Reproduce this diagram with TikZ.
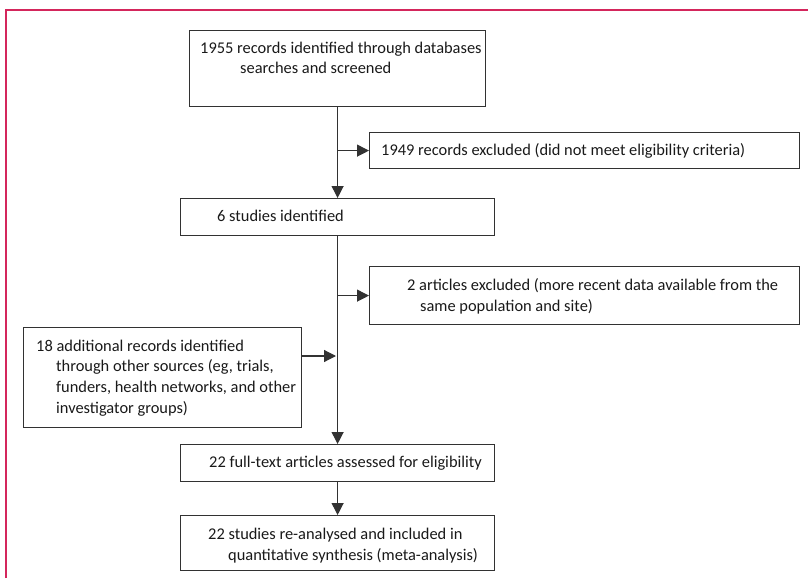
\documentclass[tikz,border=0pt]{standalone}
\usepackage{fontspec}
\setmainfont{Carlito}
\usetikzlibrary{arrows.meta}
\definecolor{lancetpink}{RGB}{212,38,92}
\definecolor{boxline}{RGB}{50,50,50}
\tikzset{
  box/.style={draw=boxline, line width=1.2pt, rectangle, anchor=north west, inner sep=0pt},
  txt/.style={anchor=base west, align=left, inner sep=0pt, font=\fontsize{16.4}{20.6}\selectfont, text=black!90},
  flow/.style={draw=boxline, line width=1.2pt, -{Triangle[length=12pt,width=12pt]}}
}
\begin{document}
\begin{tikzpicture}[x=1pt,y=-1pt]
\useasboundingbox (0,0) rectangle (808,578);
\draw[lancetpink, line width=1.3pt] (6,578) -- (6,10) -- (808,10);
% boxes
\node[box, minimum width=296pt, minimum height=76pt] (b1) at (189,30) {};
\node[box, minimum width=430pt, minimum height=36pt] (ex1) at (369,132) {};
\node[box, minimum width=314pt, minimum height=37pt] (b6) at (180,198) {};
\node[box, minimum width=430pt, minimum height=58pt] (ex2) at (369,266) {};
\node[box, minimum width=278pt, minimum height=100pt] (oth) at (23,327) {};
\node[box, minimum width=314pt, minimum height=37pt] (full) at (180,444) {};
\node[box, minimum width=314pt, minimum height=55pt] (fin) at (180,515) {};
% texts (anchor = baseline of the last line)
\node[txt] (t1) at (200,74) {1955 records identified through databases\\\hspace*{40pt}searches and screened};
\node[txt] (tex1) at (381,155) {1949 records excluded (did not meet eligibility criteria)};
\node[txt] (t6) at (217,221) {6 studies identified};
\node[txt] (tex2) at (407,311) {2 articles excluded (more recent data available from the\\\hspace*{13pt}same population and site)};
\node[txt] (toth) at (36,413) {18 additional records identified\\\hspace*{20pt}through other sources (eg, trials,\\\hspace*{20pt}funders, health networks, and other\\\hspace*{20pt}investigator groups)};
\node[txt] (tfull) at (209,467) {22 full-text articles assessed for eligibility};
\node[txt] (tfin) at (208,560) {22 studies re-analysed and included in\\\hspace*{20pt}quantitative synthesis (meta-analysis)};
% connectors
\coordinate (j) at (336,356);
\draw[flow] (b1.south) -- (b6.north);
\draw[flow] (b1.south |- ex1.west) -- (ex1.west);
\draw[flow] (b6.south) -- (full.north);
\draw[flow] (b6.south |- ex2.west) -- (ex2.west);
\draw[flow] (oth.east |- j) -- (j);
\draw[flow] (full.south) -- (fin.north);
\end{tikzpicture}
\end{document}
